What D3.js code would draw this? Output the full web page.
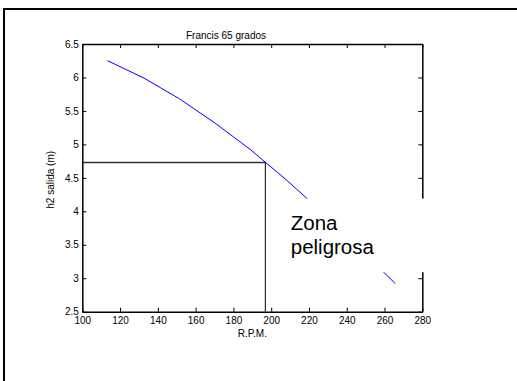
<!DOCTYPE html>
<html>
<head>
<meta charset="utf-8">
<script src="https://cdn.jsdelivr.net/npm/d3@7"></script>
<style>
  html, body { margin: 0; padding: 0; background: #fff; }
  svg { display: block; font-family: "Liberation Sans", Arial, Helvetica, sans-serif; }
</style>
</head>
<body>
<svg id="chart" width="517" height="381"></svg>
<script>
// Curve: outlet head h2 (m) against runner speed (R.P.M.)
const rpm = [113.4, 132.7, 151.5, 170.2, 189.1, 208.0, 226.9, 245.8, 265.7];
const h2  = [6.25, 5.99, 5.68, 5.32, 4.92, 4.47, 3.99, 3.47, 2.92];

// Operating point marked by the guide lines
const opRpm = 196.9;
const opH2 = 4.73;

// Axis ticks
const xTicks = [100, 120, 140, 160, 180, 200, 220, 240, 260, 280];
const yTicks = [2.5, 3, 3.5, 4, 4.5, 5, 5.5, 6, 6.5];
const xDomain = [100, 280];
const yDomain = [2.5, 6.5];

// Text
const title = "Francis 65 grados";
const xLabel = "R.P.M.";
const yLabel = "h2 salida (m)";
const noteLines = ["Zona", "peligrosa"];
// Blanked note box, in data units: [rpm0, rpm1], [h2 top, h2 bottom]
const noteBoxRpm = [208.5, 284];
const noteBoxH2 = [4.19, 3.09];

const svg = d3.select("#chart");
const plotLeft = 82.3, plotTop = 44, plotW = 340, plotH = 267.7;

// Figure frame (left and top edges)
svg.append("path")
  .attr("d", "M4,381 L4,9 L517,9")
  .attr("fill", "none").attr("stroke", "#000").attr("stroke-width", 2);

const x = d3.scaleLinear().domain(xDomain).range([plotLeft, plotLeft + plotW]);
const y = d3.scaleLinear().domain(yDomain).range([plotTop + plotH, plotTop]);

const g = svg.append("g");

// Data curve
const line = d3.line().x((d, i) => x(rpm[i])).y(d => y(d));
g.append("path")
  .datum(h2)
  .attr("d", line)
  .attr("fill", "none")
  .attr("stroke", "#0000ff")
  .attr("stroke-width", 1);

// Guide lines to the operating point
g.append("line")
  .attr("x1", x(xDomain[0])).attr("x2", x(opRpm))
  .attr("y1", y(opH2)).attr("y2", y(opH2))
  .attr("stroke", "#333").attr("stroke-width", 1.6);
g.append("line")
  .attr("x1", x(opRpm)).attr("x2", x(opRpm))
  .attr("y1", y(opH2)).attr("y2", y(yDomain[0]))
  .attr("stroke", "#000").attr("stroke-width", 1);

// Axes with inward ticks on all four sides
function styleAxis(sel) {
  sel.selectAll("path.domain").attr("stroke", "#000").attr("stroke-width", 1.5);
  sel.selectAll(".tick line").attr("stroke", "#000").attr("stroke-width", 1);
  sel.selectAll("text").attr("fill", "#000").style("font-size", "10px")
    .style("font-family", "'Liberation Sans', Arial, Helvetica, sans-serif");
}

const axB = svg.append("g").attr("transform", `translate(0,${plotTop + plotH})`)
  .call(d3.axisBottom(x).tickValues(xTicks).tickFormat(d3.format("d"))
    .tickSizeInner(-4).tickSizeOuter(0).tickPadding(5));
styleAxis(axB);

const axL = svg.append("g").attr("transform", `translate(${plotLeft},0)`)
  .call(d3.axisLeft(y).tickValues(yTicks).tickFormat(d => String(d))
    .tickSizeInner(-4).tickSizeOuter(0).tickPadding(3.5));
styleAxis(axL);

const axT = svg.append("g").attr("transform", `translate(0,${plotTop})`)
  .call(d3.axisTop(x).tickValues(xTicks).tickFormat("")
    .tickSizeInner(-4).tickSizeOuter(0));
styleAxis(axT);

const axR = svg.append("g").attr("transform", `translate(${plotLeft + plotW},0)`)
  .call(d3.axisRight(y).tickValues(yTicks).tickFormat("")
    .tickSizeInner(-4).tickSizeOuter(0));
styleAxis(axR);

// Title and axis labels
svg.append("text")
  .attr("x", 226).attr("y", 38.5)
  .attr("text-anchor", "middle")
  .style("font-size", "10px")
  .text(title);

svg.append("text")
  .attr("x", x(d3.mean(xDomain))).attr("y", 337)
  .attr("text-anchor", "middle")
  .style("font-size", "10px")
  .text(xLabel);

svg.append("text")
  .attr("transform", `translate(54,${y(d3.mean(yDomain)) + 2}) rotate(-90)`)
  .attr("text-anchor", "middle")
  .style("font-size", "10px")
  .text(yLabel);

// Note box blanking part of the curve and frame
svg.append("rect")
  .attr("x", x(noteBoxRpm[0]))
  .attr("y", y(noteBoxH2[0]))
  .attr("width", x(noteBoxRpm[1]) - x(noteBoxRpm[0]))
  .attr("height", y(noteBoxH2[1]) - y(noteBoxH2[0]))
  .attr("fill", "#fff");

const note = svg.append("text")
  .attr("x", x(noteBoxRpm[0]) + 3.5)
  .attr("y", 229.5)
  .style("font-size", "20.5px")
  .attr("fill", "#000");
note.selectAll("tspan").data(noteLines).join("tspan")
  .attr("x", x(noteBoxRpm[0]) + 3.5)
  .attr("dy", (d, i) => i === 0 ? 0 : 24)
  .text(d => d);
</script>
</body>
</html>
